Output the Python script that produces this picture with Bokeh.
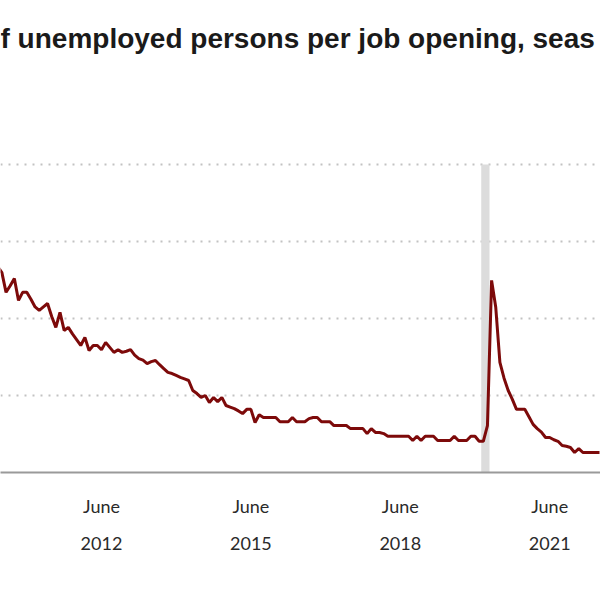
from bokeh.plotting import figure
from bokeh.models import Range1d, LinearAxis, FixedTicker, Grid
from bokeh.core.properties import value
from bokeh.embed import file_html
from bokeh.resources import INLINE

# ---------------- data ----------------
title_text = "f unemployed persons per job opening, seas"

start_year = 2010
start_month = 5  # May 2010

ratio_2010 = [5.35, 5.19, 4.68, 4.85, 5.04, 4.47, 4.68, 4.68]  # May-Dec
ratio_2011 = [4.50, 4.30, 4.21, 4.30, 4.39, 4.05, 3.77, 4.16, 3.69, 3.77, 3.60, 3.45]
ratio_2012 = [3.30, 3.51, 3.17, 3.30, 3.30, 3.19, 3.38, 3.25, 3.12, 3.19, 3.12, 3.15]
ratio_2013 = [3.19, 3.05, 2.96, 2.92, 2.83, 2.88, 2.91, 2.80, 2.70, 2.60, 2.57, 2.52]
ratio_2014 = [2.47, 2.43, 2.39, 2.13, 2.05, 1.95, 2.00, 1.82, 1.95, 1.84, 1.95, 1.74]
ratio_2015 = [1.70, 1.66, 1.60, 1.53, 1.64, 1.64, 1.30, 1.50, 1.43, 1.43, 1.43, 1.43]
ratio_2016 = [1.32, 1.32, 1.32, 1.43, 1.32, 1.32, 1.32, 1.40, 1.43, 1.43, 1.32, 1.32]
ratio_2017 = [1.32, 1.22, 1.22, 1.22, 1.22, 1.14, 1.14, 1.14, 1.14, 1.01, 1.14, 1.04]
ratio_2018 = [1.04, 1.01, 0.94, 0.94, 0.94, 0.94, 0.94, 0.94, 0.83, 0.94, 0.83, 0.94]
ratio_2019 = [0.94, 0.94, 0.83, 0.83, 0.83, 0.83, 0.94, 0.83, 0.83, 0.83, 0.94, 0.94]
ratio_2020 = [0.81, 0.81, 1.22, 4.99, 4.29, 2.86, 2.45, 2.13, 1.90, 1.64, 1.64, 1.64]
ratio_2021 = [1.45, 1.25, 1.14, 1.05, 0.91, 0.91, 0.85, 0.81, 0.70, 0.68, 0.65, 0.52]
ratio_2022 = [0.62, 0.52, 0.52, 0.52, 0.52, 0.52]  # Jan-Jun

tick_years = [2012, 2015, 2018, 2021]
tick_month = 6
tick_month_label = "June"
grid_values = [2, 4, 6, 8]

recession_start = (2020, 2)
recession_end = (2020, 4)


def month_index(year, month):
    return (year - start_year) * 12 + (month - start_month)


ratios = (ratio_2010 + ratio_2011 + ratio_2012 + ratio_2013 + ratio_2014 + ratio_2015
          + ratio_2016 + ratio_2017 + ratio_2018 + ratio_2019 + ratio_2020 + ratio_2021
          + ratio_2022)
months = list(range(len(ratios)))

# ---------------- figure ----------------
W, H = 600, 600
px_per_month = 4.15
tick0 = month_index(tick_years[0], tick_month)
x_start = tick0 - 101 / px_per_month
x_end = x_start + W / px_per_month

frame_h = 472
px_per_unit = 38.5
y_end = frame_h / px_per_unit

p = figure(width=W, height=H, output_backend="svg", toolbar_location=None,
           x_range=Range1d(x_start, x_end), y_range=Range1d(0, y_end),
           x_axis_location=None, y_axis_location=None,
           min_border_left=0, min_border_right=0, min_border_top=0,
           min_border_bottom=H - frame_h)
p.outline_line_color = None
p.background_fill_color = "white"
p.border_fill_color = "white"
p.grid.visible = False

p.add_layout(Grid(dimension=1, ticker=FixedTicker(ticks=grid_values),
                  grid_line_color="#c2c2c2", grid_line_dash="2 6",
                  grid_line_width=2))

# recession shading
p.quad(left=[month_index(*recession_start) - 0.5],
       right=[month_index(*recession_end) - 0.5],
       bottom=[0], top=[grid_values[-1]],
       fill_color="#dcdcdc", line_color=None)

p.line(months, ratios, line_color="#7d0a0a", line_width=3)

# title (cropped, as in the reference)
p.text(x=[x_start], y=[y_end - 38 / px_per_unit], text=[title_text],
       text_font=value("Liberation Sans"), text_font_size="28px",
       text_font_style="bold", text_color="#1a1a1a",
       text_baseline="middle", text_align="left")

tick_pos = [month_index(y, tick_month) for y in tick_years]

ax1 = LinearAxis(ticker=FixedTicker(ticks=tick_pos),
                 major_label_overrides={t: tick_month_label for t in tick_pos},
                 axis_line_color="#9a9a9a", axis_line_width=2,
                 major_tick_line_color=None, minor_tick_line_color=None,
                 major_label_standoff=16,
                 major_label_text_font="Lato", major_label_text_font_size="18px",
                 major_label_text_color="#2a2a2a")
ax2 = LinearAxis(ticker=FixedTicker(ticks=tick_pos),
                 major_label_overrides={t: str(y) for t, y in zip(tick_pos, tick_years)},
                 axis_line_color=None,
                 major_tick_line_color=None, minor_tick_line_color=None,
                 major_label_standoff=11,
                 major_label_text_font="Lato", major_label_text_font_size="18px",
                 major_label_text_color="#2a2a2a")
p.add_layout(ax1, "below")
p.add_layout(ax2, "below")

open("out.html", "w").write(file_html(p, INLINE))
